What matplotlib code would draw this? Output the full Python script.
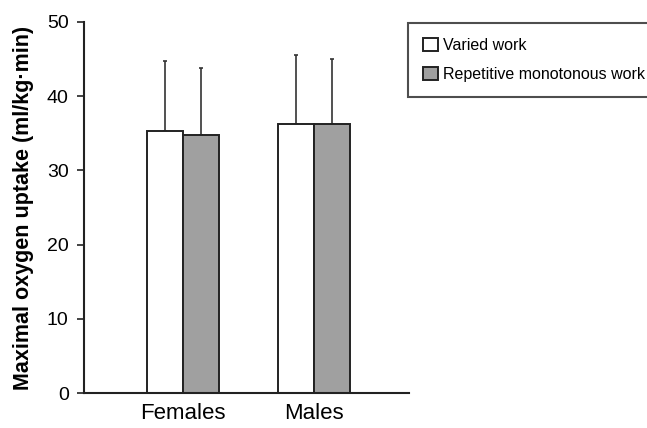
import matplotlib
matplotlib.use("Agg")
import matplotlib.pyplot as plt
import numpy as np

plt.rcParams['font.family'] = ['Liberation Sans', 'DejaVu Sans']

categories = ["Females", "Males"]
varied = [35.3, 36.3]
varied_sd = [9.5, 9.2]
repetitive = [34.8, 36.3]
repetitive_sd = [9.0, 8.7]
series_labels = ["Varied work", "Repetitive monotonous work"]
yticks = [0, 10, 20, 30, 40, 50]

fig = plt.figure(figsize=(6.47, 4.28), dpi=100)
ax = fig.add_axes([84/647, 35/428, 325/647, 371/428])

x = np.arange(len(categories))
w = 0.275
ax.bar(x - w/2, varied, w, color="white", edgecolor="#222222", linewidth=1.4,
       label=series_labels[0], zorder=2)
ax.bar(x + w/2, repetitive, w, color="#a0a0a0", edgecolor="#222222", linewidth=1.4,
       label=series_labels[1], zorder=2)
ax.errorbar(x - w/2, varied, yerr=[np.zeros(2), varied_sd], fmt="none",
            ecolor="#333333", elinewidth=1.2, capsize=1.5, capthick=1.2, zorder=1)
ax.errorbar(x + w/2, repetitive, yerr=[np.zeros(2), repetitive_sd], fmt="none",
            ecolor="#333333", elinewidth=1.2, capsize=1.5, capthick=1.2, zorder=1)

ax.set_xlim(-0.756, 1.725)
ax.set_ylim(0, 50)
ax.set_yticks(yticks)
ax.set_yticklabels([str(t) for t in yticks], fontsize=14)
ax.set_xticks(x)
ax.set_xticklabels(categories, fontsize=16)
ax.tick_params(axis="x", length=0, pad=7)
ax.tick_params(axis="y", length=5, width=1.2, color="#222222", pad=6)
for s in ["top", "right"]:
    ax.spines[s].set_visible(False)
for s in ["left", "bottom"]:
    ax.spines[s].set_linewidth(1.5)
    ax.spines[s].set_color("#222222")
ax.set_ylabel("Maximal oxygen uptake (ml/kg\u00b7min)", fontsize=15.5,
              fontweight="bold", labelpad=9)

leg = fig.legend(loc="upper left",
                 bbox_to_anchor=(408/647, (428-98)/428, 320/647, 75/428),
                 mode="expand", fontsize=11.5, frameon=True, fancybox=False,
                 handlelength=0.9, handleheight=0.9, handletextpad=0.35,
                 borderpad=0.95, labelspacing=0.85, borderaxespad=0)
leg.get_frame().set_edgecolor("#222222")
leg.get_frame().set_linewidth(1.5)

fig.savefig("out.png", dpi=100)
